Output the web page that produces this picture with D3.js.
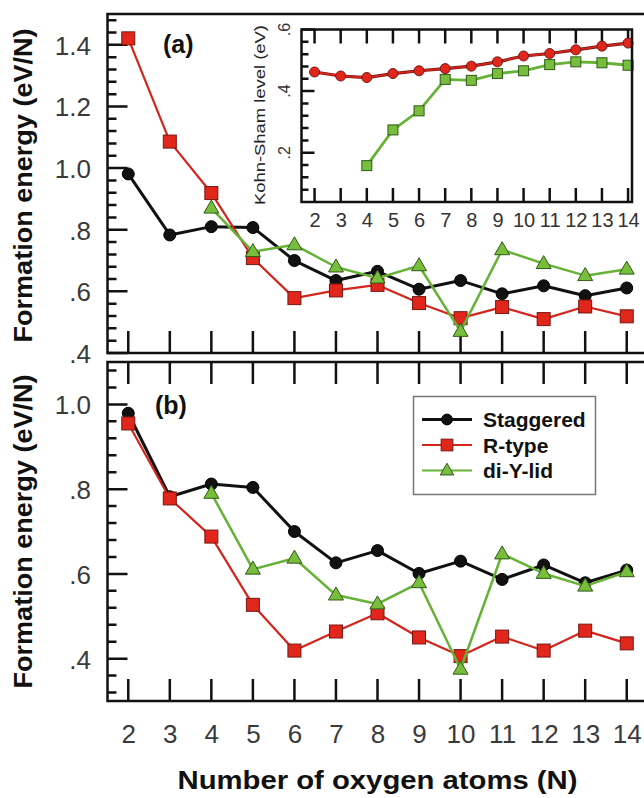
<!DOCTYPE html>
<html><head><meta charset="utf-8">
<script src="https://cdn.jsdelivr.net/npm/d3@7"></script>
<style>body{margin:0;background:#fff}svg{display:block}</style>
</head><body>
<svg id="c" width="644" height="798"></svg>
<script>
// ---- data ----
const N = [2,3,4,5,6,7,8,9,10,11,12,13,14];
const N_diY = [4,5,6,7,8,9,10,11,12,13,14];
const aStaggered = [0.981,0.783,0.810,0.807,0.700,0.635,0.665,0.607,0.635,0.592,0.618,0.586,0.611];
const aRtype     = [1.421,1.086,0.919,0.708,0.578,0.603,0.621,0.562,0.513,0.549,0.510,0.551,0.519];
const aDiYlid    = [0.870,0.729,0.751,0.679,0.643,0.683,0.470,0.735,0.690,0.651,0.672];
const bStaggered = [0.979,0.782,0.812,0.804,0.700,0.626,0.655,0.601,0.630,0.587,0.621,0.579,0.609];
const bRtype     = [0.955,0.778,0.688,0.527,0.419,0.464,0.507,0.450,0.406,0.452,0.419,0.466,0.436];
const bDiYlid    = [0.790,0.611,0.637,0.550,0.529,0.579,0.375,0.647,0.601,0.571,0.605];
const insetRed   = [0.462,0.449,0.444,0.457,0.466,0.473,0.481,0.495,0.514,0.522,0.534,0.546,0.556];
const insetGreen = [0.158,0.274,0.336,0.438,0.435,0.457,0.466,0.486,0.495,0.492,0.484];
const aYTicks = [0.4,0.6,0.8,1.0,1.2,1.4];
const aYTickLabels = [".4",".6",".8","1.0","1.2","1.4"];
const bYTicks = [0.4,0.6,0.8,1.0];
const bYTickLabels = [".4",".6",".8","1.0"];
const insYTicks = [0.2,0.4,0.6];
const insYTickLabels = [".2",".4",".6"];
const legendNames = ["Staggered","R-type","di-Y-lid"];

const COL = {black:"#111", red:"#e1261c", redLine:"#d2261c", redEdge:"#7a1610",
             green:"#79bd3c", greenLine:"#66b236", greenEdge:"#2f5a18"};
const FONT = "'Liberation Sans', Arial, Helvetica, sans-serif";

const svg = d3.select("#c");
const x = d3.scaleLinear().domain([1.5,14.5]).range([107.5,647.5]);
const yA = d3.scaleLinear().domain([0.4,1.5]).range([353,14]);
const yB = d3.scaleLinear().domain([0.3,1.1]).range([701,362]);
const xi = d3.scaleLinear().domain([1.5,14.15]).range([301.5,632]);
const yi = d3.scaleLinear().domain([0.04,0.6]).range([202,29.5]);

function minorTicks(lo, hi){ const r=[]; for(let k=Math.round(lo*100); k<=Math.round(hi*100); k+=4){ if(k%20!==0) r.push(k/100);} return r; }

// tick marks as one path: horizontal ticks (dir='h') at y-values, vertical (dir='v') at x-values
function hTicks(parent, y, vals, x0, len){
  const p = d3.path();
  vals.forEach(v=>{ p.moveTo(x0, y(v)); p.lineTo(x0+len, y(v)); });
  parent.append("path").attr("d", p.toString()).attr("fill","none")
    .attr("stroke","#111").attr("stroke-width",2.5);
}
function vTicks(parent, xs, vals, y0, len){
  const p = d3.path();
  vals.forEach(v=>{ p.moveTo(xs(v), y0); p.lineTo(xs(v), y0+len); });
  parent.append("path").attr("d", p.toString()).attr("fill","none")
    .attr("stroke","#111").attr("stroke-width",2.5);
}

function panel(y, opts){
  const g = svg.append("g");
  const x0 = x.range()[0], x1 = x.range()[1];
  const yBot = y.range()[0], yTop = y.range()[1];
  hTicks(g, y, opts.majors, x0, 20);
  hTicks(g, y, opts.minors, x0, 9);
  if(opts.bottomTicks) vTicks(g, x, N, yBot, -22);
  if(opts.topTicks) vTicks(g, x, N, yTop, 22);
  const lab = g.append("g").attr("transform",`translate(${x0},0)`)
    .call(d3.axisLeft(y).tickValues(opts.majors).tickSize(0).tickPadding(16.5)
      .tickFormat((d,i)=>opts.labels[i]));
  lab.select(".domain").remove();
  lab.selectAll("text").attr("font-family",FONT).attr("font-size",26).attr("fill","#3a3a3a").attr("dy","0.36em");
  g.append("rect").attr("x",x0).attr("y",yTop).attr("width",x1-x0).attr("height",yBot-yTop)
    .attr("fill","none").attr("stroke","#111").attr("stroke-width",2.5);
  return g;
}

function series(g, y, xs, vals, kind){
  const line = d3.line().x((d,i)=>x(xs[i])).y(d=>y(d));
  const lc = kind==="circle"?COL.black:(kind==="square"?COL.redLine:COL.greenLine);
  const lw = kind==="circle"?3:(kind==="square"?2.2:2.5);
  g.append("path").datum(vals).attr("d",line).attr("fill","none")
    .attr("stroke",lc).attr("stroke-width",lw).attr("stroke-linejoin","round");
  drawMarkers(g, vals.map((v,i)=>[x(xs[i]), y(v)]), kind, 1);
}
function drawMarkers(g, pts, kind, size){
  size = size || 1;
  if(kind==="circle"){
    g.selectAll(null).data(pts).join("circle").attr("cx",d=>d[0]).attr("cy",d=>d[1])
      .attr("r",6*size).attr("fill",COL.black).attr("stroke","#000").attr("stroke-width",1);
  } else if(kind==="square"){
    const s=13*size;
    g.selectAll(null).data(pts).join("rect").attr("x",d=>d[0]-s/2).attr("y",d=>d[1]-s/2)
      .attr("width",s).attr("height",s).attr("fill",COL.red).attr("stroke",COL.redEdge).attr("stroke-width",1);
  } else if(kind==="triangle"){
    const h=13*size, w=15*size;
    g.selectAll(null).data(pts).join("path")
      .attr("d",d=>`M${d[0]},${d[1]-h*0.62}L${d[0]+w/2},${d[1]+h*0.38}L${d[0]-w/2},${d[1]+h*0.38}Z`)
      .attr("fill",COL.green).attr("stroke",COL.greenEdge).attr("stroke-width",1);
  } else if(kind==="icircle"){
    g.selectAll(null).data(pts).join("circle").attr("cx",d=>d[0]).attr("cy",d=>d[1])
      .attr("r",5).attr("fill",COL.red).attr("stroke",COL.redEdge).attr("stroke-width",1);
  } else if(kind==="isquare"){
    const s=10;
    g.selectAll(null).data(pts).join("rect").attr("x",d=>d[0]-s/2).attr("y",d=>d[1]-s/2)
      .attr("width",s).attr("height",s).attr("fill",COL.green).attr("stroke",COL.greenEdge).attr("stroke-width",1);
  }
}

// ---- panel (a) ----
const gA = panel(yA,{majors:aYTicks, labels:aYTickLabels, minors:minorTicks(0.44,1.48), bottomTicks:true, topTicks:false});
series(gA, yA, N, aStaggered, "circle");
series(gA, yA, N, aRtype, "square");
series(gA, yA, N_diY, aDiYlid, "triangle");
svg.append("text").attr("x",163).attr("y",53).attr("font-family",FONT).attr("font-weight","bold")
  .attr("font-size",25).attr("fill","#111").text("(a)");

// ---- panel (b) ----
const gB = panel(yB,{majors:bYTicks, labels:bYTickLabels, minors:minorTicks(0.32,1.08), bottomTicks:true, topTicks:true});
series(gB, yB, N, bStaggered, "circle");
series(gB, yB, N, bRtype, "square");
series(gB, yB, N_diY, bDiYlid, "triangle");
svg.append("text").attr("x",155).attr("y",414).attr("font-family",FONT).attr("font-weight","bold")
  .attr("font-size",25).attr("fill","#111").text("(b)");

// x tick labels
const xl = svg.append("g").attr("transform","translate(0,701)")
  .call(d3.axisBottom(x).tickValues(N).tickSize(0).tickPadding(24).tickFormat(d3.format("d")));
xl.select(".domain").remove();
xl.selectAll("text").attr("font-family",FONT).attr("font-size",26).attr("fill","#3a3a3a");

// axis titles
svg.append("text").attr("x",377.5).attr("y",789).attr("text-anchor","middle")
  .attr("font-family",FONT).attr("font-weight","bold").attr("font-size",26).attr("fill","#111")
  .attr("textLength",400).attr("lengthAdjust","spacingAndGlyphs").text("Number of oxygen atoms (N)");
[185.5, 531.5].forEach(cy=>{
  svg.append("text").attr("transform",`translate(32,${cy}) rotate(-90)`).attr("text-anchor","middle")
    .attr("font-family",FONT).attr("font-weight","bold").attr("font-size",26).attr("fill","#111")
    .attr("textLength",314).attr("lengthAdjust","spacingAndGlyphs").text("Formation energy (eV/N)");
});

// ---- legend ----
const lg = svg.append("g");
lg.append("rect").attr("x",413.5).attr("y",396.5).attr("width",182).attr("height",98)
  .attr("fill","#fff").attr("stroke","#777").attr("stroke-width",1.5);
const legKinds = ["circle","square","triangle"];
const legY = d3.scalePoint().domain(legendNames).range([419.5,470.5]);
legendNames.forEach((name,i)=>{
  const yy = legY(name);
  const lc = i===0?COL.black:(i===1?COL.redLine:COL.greenLine);
  lg.append("line").attr("x1",422).attr("x2",472).attr("y1",yy).attr("y2",yy)
    .attr("stroke",lc).attr("stroke-width",i===0?3:2.2);
  drawMarkers(lg, [[447,yy]], legKinds[i], 0.9);
  lg.append("text").attr("x",483).attr("y",yy+7.5).attr("font-family",FONT).attr("font-weight","bold")
    .attr("font-size",21).attr("fill","#111").text(name);
});

// ---- inset ----
const gi = svg.append("g");
const ix0 = xi.range()[0], ix1 = xi.range()[1];
const iyBot = yi.range()[0], iyTop = yi.range()[1];
gi.append("rect").attr("x",ix0).attr("y",iyTop).attr("width",ix1-ix0).attr("height",iyBot-iyTop).attr("fill","#fff");
hTicks(gi, yi, insYTicks, ix0, 13);
hTicks(gi, yi, minorTicks(0.08,0.56), ix0, 7);
vTicks(gi, xi, N, iyBot, -14);
vTicks(gi, xi, N, iyTop, 14);
const iLineR = d3.line().x((d,i)=>xi(N[i])).y(d=>yi(d));
gi.append("path").datum(insetRed).attr("d",iLineR).attr("fill","none").attr("stroke",COL.redEdge).attr("stroke-width",3.2);
gi.append("path").datum(insetRed).attr("d",iLineR).attr("fill","none").attr("stroke",COL.redLine).attr("stroke-width",1.8);
drawMarkers(gi, insetRed.map((v,i)=>[xi(N[i]),yi(v)]), "icircle");
gi.append("path").datum(insetGreen).attr("d",d3.line().x((d,i)=>xi(N_diY[i])).y(d=>yi(d)))
  .attr("fill","none").attr("stroke",COL.greenLine).attr("stroke-width",2.8);
drawMarkers(gi, insetGreen.map((v,i)=>[xi(N_diY[i]),yi(v)]), "isquare");
gi.append("rect").attr("x",ix0).attr("y",iyTop).attr("width",ix1-ix0).attr("height",iyBot-iyTop)
  .attr("fill","none").attr("stroke","#111").attr("stroke-width",2.5);
const ixl = gi.append("g").attr("transform",`translate(0,${iyBot})`)
  .call(d3.axisBottom(xi).tickValues(N).tickSize(0).tickPadding(10.3).tickFormat(d3.format("d")));
ixl.select(".domain").remove();
ixl.selectAll("text").attr("font-family",FONT).attr("font-size",20).attr("fill","#333");
gi.selectAll(null).data(insYTicks).join("text")
  .attr("transform",d=>`translate(290,${yi(d)}) rotate(-90)`).attr("text-anchor","middle")
  .attr("font-family",FONT).attr("font-size",16).attr("fill","#333").text((d,i)=>insYTickLabels[i]);
gi.append("text").attr("transform","translate(265,115) rotate(-90)").attr("text-anchor","middle")
  .attr("font-family",FONT).attr("font-size",14).attr("fill","#222")
  .attr("textLength",180).attr("lengthAdjust","spacingAndGlyphs").text("Kohn-Sham level (eV)");
</script>
</body></html>
